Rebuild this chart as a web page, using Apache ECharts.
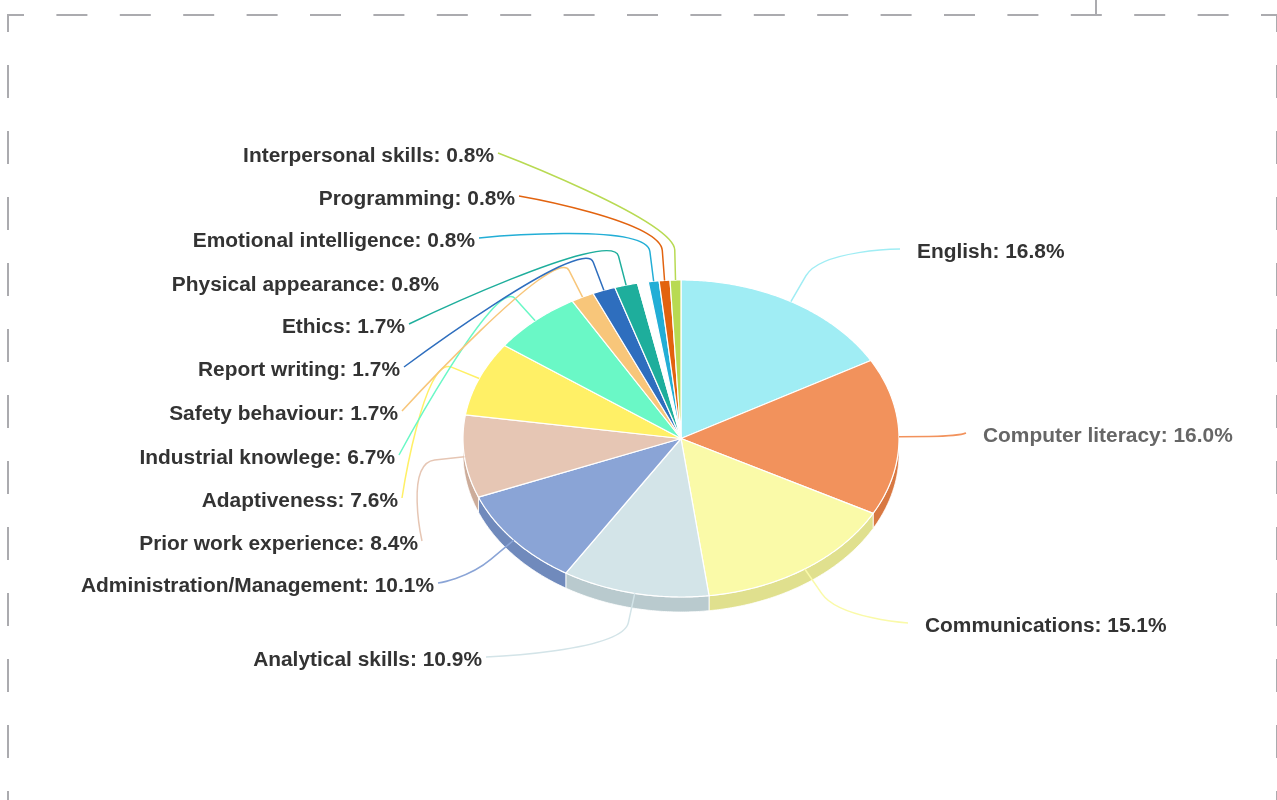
<!DOCTYPE html>
<html>
<head>
<meta charset="utf-8">
<title>Skills</title>
<script src="https://cdn.jsdelivr.net/npm/echarts@6/dist/echarts.min.js"></script>
<style>
  html, body { margin: 0; padding: 0; background: #ffffff; }
  #chart { width: 1277px; height: 800px; }
</style>
</head>
<body>
<div id="chart"></div>
<script>
// ---- data ----
const categories = [
  'English', 'Computer literacy', 'Communications', 'Analytical skills',
  'Administration/Management', 'Prior work experience', 'Adaptiveness',
  'Industrial knowlege', 'Safety behaviour', 'Report writing', 'Ethics',
  'Physical appearance', 'Emotional intelligence', 'Programming', 'Interpersonal skills'
];
const shares = [16.8, 16.0, 15.1, 10.9, 10.1, 8.4, 7.6, 6.7, 1.7, 1.7, 1.7, 0.8, 0.8, 0.8, 0.8];

// ---- styling ----
const sliceColors = [
  '#a0edf4', '#f2925c', '#fafaa8', '#d3e4e8', '#8aa4d6', '#e6c6b4', '#fff066',
  '#6af8c6', '#f8c67a', '#2e6ebe', '#1eae9c', '#ffffff', '#22aed6', '#e2630f', '#b8da52'
];
const labelTextColors = [
  '#333333', '#666666', '#333333', '#333333', '#333333', '#333333', '#333333',
  '#333333', '#333333', '#333333', '#333333', '#333333', '#333333', '#333333', '#333333'
];
const LABEL_STRETCH = 1.045;     // labels are set slightly wide

// ---- layout ----
const CX = 681, CY = 438.5;      // centre of the top face
const RX = 218, RY = 158.5;      // ellipse radii of the tilted pie
const DEPTH = 15;                // thickness of the pie wall
const BREAK = 30;                // how far the connector runs straight out of a slice
// where each label text is anchored (text edge, vertical centre)
const labelAnchors = [
  [917, 252], [983, 436], [925, 626], [482, 660], [434, 586], [418, 544], [398, 501],
  [395, 458], [398, 414], [400, 370], [405, 327], [439, 285], [475, 241], [515, 199], [494, 156]
];

const total = shares.reduce((a, b) => a + b, 0);
const cumBefore = [];
shares.reduce((acc, v, i) => { cumBefore[i] = acc; return acc + v; }, 0);

function pt(theta, rx, ry, dy) {
  return [CX + rx * Math.sin(theta), CY - ry * Math.cos(theta) + (dy || 0)];
}
function arc(a0, a1, dy) {
  const n = Math.max(2, Math.ceil((a1 - a0) / (Math.PI / 360)));
  const out = [];
  for (let k = 0; k <= n; k++) out.push(pt(a0 + (a1 - a0) * k / n, RX, RY, dy));
  return out;
}
function darken(hex, amt) {
  const n = parseInt(hex.slice(1), 16);
  const c = [(n >> 16) & 255, (n >> 8) & 255, n & 255].map(x => Math.max(0, Math.round(x - amt)));
  return 'rgb(' + c.join(',') + ')';
}
function angles(i, v) {
  const a0 = cumBefore[i] / total * Math.PI * 2;
  const a1 = a0 + v / total * Math.PI * 2;
  return [a0, a1];
}

function renderSlice(params, api) {
  const i = params.dataIndex;
  const [a0, a1] = angles(i, api.value(0));
  const children = [];
  // outer wall, only where it faces the viewer
  const s = Math.max(a0, Math.PI / 2), e = Math.min(a1, Math.PI * 1.5);
  if (e > s) {
    const top = arc(s, e, 0);
    const bottom = arc(s, e, DEPTH).reverse();
    children.push({
      type: 'polygon',
      shape: { points: top.concat(bottom) },
      style: { fill: darken(sliceColors[i], 26), stroke: '#ffffff', lineWidth: 0.8 },
      z2: 1
    });
  }
  // top face
  children.push({
    type: 'polygon',
    shape: { points: [[CX, CY]].concat(arc(a0, a1, 0)) },
    style: { fill: sliceColors[i], stroke: '#ffffff', lineWidth: 1.2, lineJoin: 'round' },
    z2: 2
  });
  return { type: 'group', children: children };
}

function renderLabel(params, api) {
  const i = params.dataIndex;
  const v = api.value(0);
  const [a0, a1] = angles(i, v);
  const mid = (a0 + a1) / 2;
  const touch = pt(mid, RX, RY, 0);
  const brk = pt(mid, RX + BREAK, RY + BREAK, 0);
  const [tx, ty] = labelAnchors[i];
  const left = tx < CX;
  const end = [left ? tx + 4 : tx - 17, ty - 3];
  const cp = [2 * brk[0] - touch[0], 2 * brk[1] - touch[1]];
  const d = 'M' + end[0] + ' ' + end[1] +
            ' C' + end[0] + ' ' + end[1] + ' ' + cp[0] + ' ' + cp[1] + ' ' + brk[0] + ' ' + brk[1] +
            ' L' + touch[0] + ' ' + touch[1];
  return {
    type: 'group',
    children: [
      {
        type: 'path',
        shape: { pathData: d },
        style: { fill: null, stroke: sliceColors[i], lineWidth: 1.5 }
      },
      {
        type: 'text',
        x: tx, y: ty,
        scaleX: LABEL_STRETCH,
        style: {
          text: categories[i] + ': ' + v.toFixed(1) + '%',
          x: 0, y: 0,
          align: left ? 'right' : 'left',
          verticalAlign: 'middle',
          fontFamily: '"Liberation Sans", Arial, sans-serif',
          fontWeight: 'bold',
          fontSize: 20,
          fill: labelTextColors[i]
        }
      }
    ]
  };
}

// dashed page frame
const frameStyle = { stroke: '#ababaf', lineWidth: 2 };
const frame = [
  { type: 'line', shape: { x1: 8, y1: 15, x2: 1277, y2: 15 },
    style: Object.assign({ lineDash: [31, 32.4], lineDashOffset: 15 }, frameStyle), silent: true },
  { type: 'line', shape: { x1: 8, y1: 14, x2: 8, y2: 800 },
    style: Object.assign({ lineDash: [33, 33], lineDashOffset: 15 }, frameStyle), silent: true },
  { type: 'line', shape: { x1: 1277, y1: 14, x2: 1277, y2: 800 },
    style: Object.assign({ lineDash: [33, 33], lineDashOffset: 15 }, frameStyle), silent: true },
  { type: 'line', shape: { x1: 1096, y1: 0, x2: 1096, y2: 15 }, style: frameStyle, silent: true }
];

const chart = echarts.init(document.getElementById('chart'), null, { renderer: 'canvas' });
chart.setOption({
  animation: false,
  backgroundColor: '#ffffff',
  graphic: { elements: frame },
  series: [
    {
      type: 'custom',
      name: 'slices',
      coordinateSystem: 'none',
      data: shares,
      renderItem: renderSlice,
      z: 2
    },
    {
      type: 'custom',
      name: 'labels',
      coordinateSystem: 'none',
      data: shares,
      renderItem: renderLabel,
      z: 3
    }
  ]
});
</script>
</body>
</html>
